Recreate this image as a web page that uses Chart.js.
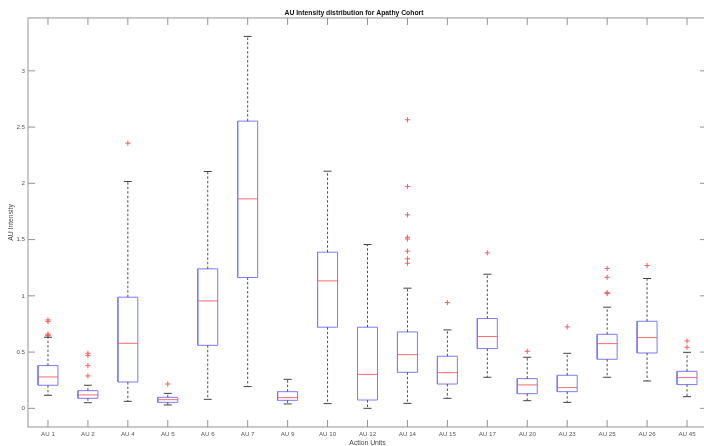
<!DOCTYPE html>
<html>
<head>
<meta charset="utf-8">
<script src="https://cdn.jsdelivr.net/npm/chart.js@4.4.0/dist/chart.umd.min.js"></script>
<style>
  html, body { margin: 0; padding: 0; overflow: hidden; background: #fff; }
  #wrap { position: absolute; left: 0; top: 0; width: 712px; height: 450px; }
</style>
</head>
<body>
<div id="wrap"><canvas id="auChart" width="712" height="450"></canvas></div>
<script>
  // values
  const labels = ["AU 1", "AU 2", "AU 4", "AU 5", "AU 6", "AU 7", "AU 9", "AU 10", "AU 12",
    "AU 14", "AU 15", "AU 17", "AU 20", "AU 23", "AU 25", "AU 26", "AU 45"];
  const whiskerLo = [0.116, 0.05, 0.062, 0.03, 0.08, 0.193, 0.039, 0.042, 0.0,
    0.044, 0.089, 0.276, 0.068, 0.053, 0.276, 0.243, 0.104];
  const q1 = [0.205, 0.089, 0.234, 0.053, 0.56, 1.163, 0.071, 0.721, 0.074,
    0.32, 0.216, 0.531, 0.13, 0.148, 0.436, 0.492, 0.211];
  const medians = [0.279, 0.119, 0.578, 0.077, 0.955, 1.862, 0.095, 1.133, 0.302,
    0.477, 0.317, 0.638, 0.208, 0.184, 0.575, 0.629, 0.273];
  const q3 = [0.38, 0.157, 0.988, 0.098, 1.24, 2.553, 0.148, 1.388, 0.721,
    0.679, 0.463, 0.798, 0.264, 0.294, 0.658, 0.774, 0.329];
  const whiskerHi = [0.632, 0.205, 2.016, 0.133, 2.105, 3.306, 0.258, 2.108, 1.456,
    1.068, 0.697, 1.192, 0.454, 0.489, 0.899, 1.154, 0.498];
  const outliers = [
    [0.786, 0.771, 0.659, 0.65, 0.645],
    [0.489, 0.469, 0.38, 0.288],
    [2.357],
    [0.216],
    [],
    [],
    [],
    [],
    [],
    [2.565, 1.972, 1.72, 1.521, 1.505, 1.397, 1.329, 1.29],
    [0.94],
    [1.382],
    [0.507],
    [0.724],
    [1.243, 1.165, 1.029, 1.02],
    [1.269],
    [0.599, 0.543]
  ];
  const yTicks = [0, 0.5, 1, 1.5, 2, 2.5, 3];

  const boxHalf = 0.25;
  const capHalf = 0.1;
  const gap = { x: NaN, y: null };

  const boxPts = [], medPts = [], whiskPts = [], capPts = [], outPts = [];
  labels.forEach((l, i) => {
    const x = i + 1;
    boxPts.push({ x: x - boxHalf, y: q1[i] }, { x: x + boxHalf, y: q1[i] },
      { x: x + boxHalf, y: q3[i] }, { x: x - boxHalf, y: q3[i] }, { x: x - boxHalf, y: q1[i] }, gap);
    medPts.push({ x: x - boxHalf, y: medians[i] }, { x: x + boxHalf, y: medians[i] }, gap);
    whiskPts.push({ x, y: q3[i] }, { x, y: whiskerHi[i] }, gap, { x, y: q1[i] }, { x, y: whiskerLo[i] }, gap);
    capPts.push({ x: x - capHalf, y: whiskerHi[i] }, { x: x + capHalf, y: whiskerHi[i] }, gap,
      { x: x - capHalf, y: whiskerLo[i] }, { x: x + capHalf, y: whiskerLo[i] }, gap);
    outliers[i].forEach(v => outPts.push({ x, y: v }));
  });

  const lineSet = (data, color, dash) => ({
    data, showLine: true, spanGaps: false, borderColor: color, borderWidth: 1,
    borderDash: dash || [], pointRadius: 0, fill: false
  });

  // matlab style box with inward ticks on all four sides
  const axisBox = {
    id: "axisBox",
    afterDraw(chart) {
      const { ctx, chartArea: a, scales: { x, y } } = chart;
      const len = 7;
      ctx.save();
      ctx.strokeStyle = "#949494";
      ctx.lineWidth = 1;
      ctx.strokeRect(a.left, a.top, a.right - a.left, a.bottom - a.top);
      ctx.beginPath();
      labels.forEach((l, i) => {
        const px = x.getPixelForValue(i + 1);
        ctx.moveTo(px, a.bottom); ctx.lineTo(px, a.bottom - len);
        ctx.moveTo(px, a.top); ctx.lineTo(px, a.top + len);
      });
      yTicks.forEach(v => {
        const py = y.getPixelForValue(v);
        ctx.moveTo(a.left, py); ctx.lineTo(a.left + len, py);
        ctx.moveTo(a.right, py); ctx.lineTo(a.right - len, py);
      });
      ctx.stroke();
      ctx.restore();
    }
  };

  const family = "'Liberation Sans', Arial, sans-serif";
  const font = { family, size: 6.2 };
  const titleFont = { family, size: 6.8 };

  new Chart(document.getElementById("auChart"), {
    type: "scatter",
    data: {
      datasets: [
        lineSet(whiskPts, "#505050", [2.5, 2]),
        lineSet(capPts, "#404040"),
        lineSet(boxPts, "#7a7aff"),
        lineSet(medPts, "#ff6a6a"),
        {
          data: outPts, pointStyle: "cross", pointRadius: 2.6, borderWidth: 1,
          borderColor: "#ff5a5a", backgroundColor: "#ff5a5a"
        }
      ]
    },
    options: {
      responsive: false,
      animation: false,
      devicePixelRatio: 1,
      layout: { padding: { left: 0, right: 4, top: 0, bottom: 0 } },
      plugins: {
        legend: { display: false },
        tooltip: { enabled: false },
        title: {
          display: true,
          text: "AU Intensity distribution for Apathy Cohort",
          color: "#111",
          font: { family, size: 6.8, weight: "bold" },
          padding: { top: 8.9, bottom: 0.9 }
        }
      },
      scales: {
        x: {
          type: "linear",
          min: 0.5,
          max: 17.5,
          afterBuildTicks: axis => { axis.ticks = labels.map((l, i) => ({ value: i + 1 })); },
          afterFit: scale => { scale.height = 23; },
          grid: { display: false, drawTicks: false },
          border: { display: false },
          ticks: {
            padding: 3.5, color: "#555", font, maxRotation: 0, autoSkip: false,
            callback: v => labels[Math.round(v) - 1]
          },
          title: { display: true, text: "Action Units", color: "#444", font: titleFont, padding: { top: 0, bottom: 3 } }
        },
        y: {
          min: -0.166,
          max: 3.47,
          afterBuildTicks: axis => { axis.ticks = yTicks.map(v => ({ value: v })); },
          afterFit: scale => { scale.width = 28; },
          grid: { display: false, drawTicks: false },
          border: { display: false },
          ticks: { padding: 3, color: "#555", font, callback: v => String(v) },
          title: { display: true, text: "AU Intensity", color: "#444", font: titleFont, padding: { top: 7.5, bottom: 0 } }
        }
      }
    },
    plugins: [axisBox]
  });
</script>
</body>
</html>
